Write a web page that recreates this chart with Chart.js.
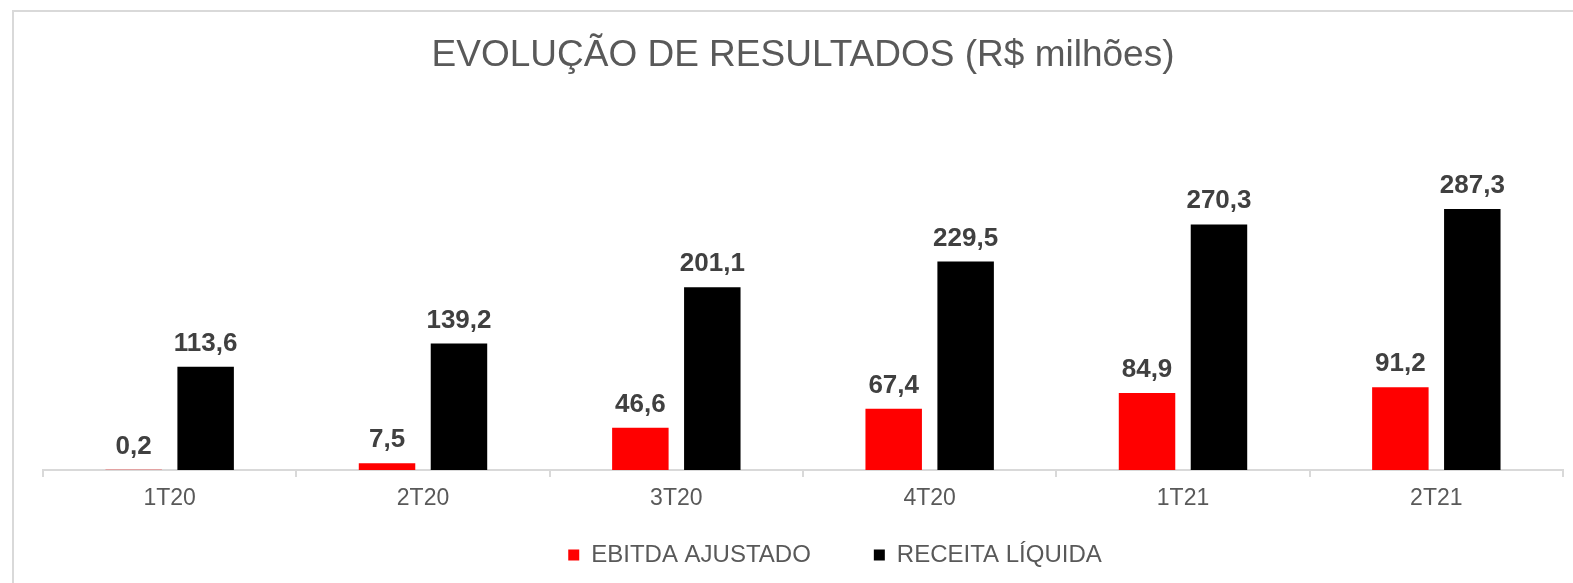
<!DOCTYPE html>
<html>
<head>
<meta charset="utf-8">
<script src="https://cdn.jsdelivr.net/npm/chart.js@4/dist/chart.umd.min.js"></script>
<style>
  html, body { margin: 0; padding: 0; background: #ffffff; overflow: hidden; }
  #wrap { position: relative; width: 1573px; height: 583px; }
  #frame { position: absolute; left: 12px; top: 10px; width: 1600px; height: 620px;
           border-left: 2px solid #d9d9d9; border-top: 2px solid #d9d9d9; pointer-events: none; }
  canvas { position: absolute; left: 0; top: 0; }
</style>
</head>
<body>
<div id="wrap">
  <canvas id="c" width="1573" height="583"></canvas>
  <div id="frame"></div>
</div>
<script>
const chartTitle = 'EVOLUÇÃO DE RESULTADOS (R$ milhões)';
const categories = ['1T20', '2T20', '3T20', '4T20', '1T21', '2T21'];
const seriesNames = ['EBITDA AJUSTADO', 'RECEITA LÍQUIDA'];
const ebitdaAjustado = [0.2, 7.5, 46.6, 67.4, 84.9, 91.2];
const receitaLiquida = [113.6, 139.2, 201.1, 229.5, 270.3, 287.3];

const FONT = '"Liberation Sans", Arial, sans-serif';
const fmt = v => v.toFixed(1).replace('.', ',');

const valueLabels = {
  id: 'valueLabels',
  afterDatasetsDraw(chart) {
    const ctx = chart.ctx;
    ctx.save();
    ctx.font = 'bold 26px ' + FONT;
    ctx.fillStyle = '#404040';
    ctx.textAlign = 'center';
    ctx.textBaseline = 'alphabetic';
    chart.data.datasets.forEach((ds, i) => {
      chart.getDatasetMeta(i).data.forEach((bar, j) => {
        ctx.fillText(fmt(ds.data[j]), bar.x, bar.y - 16);
      });
    });
    ctx.restore();
  }
};

new Chart(document.getElementById('c'), {
  type: 'bar',
  data: {
    labels: categories,
    datasets: [
      { label: seriesNames[0], data: ebitdaAjustado, backgroundColor: '#ff0000', borderWidth: 0 },
      { label: seriesNames[1], data: receitaLiquida, backgroundColor: '#000000', borderWidth: 0 }
    ]
  },
  options: {
    responsive: false,
    devicePixelRatio: 1,
    animation: false,
    layout: { padding: { left: 10, right: -87, top: 0, bottom: 6 } },
    datasets: { bar: { categoryPercentage: 0.568, barPercentage: 0.785 } },
    plugins: {
      tooltip: { enabled: false },
      title: {
        display: true,
        text: chartTitle,
        fullSize: false,
        color: '#595959',
        font: { family: FONT, size: 37, weight: 'normal' },
        padding: { top: 33.4, bottom: 74.3 }
      },
      legend: {
        display: true,
        position: 'bottom',
        fullSize: true,
        align: 'center',
        labels: {
          boxWidth: 11,
          boxHeight: 11,
          padding: 63,
          color: '#595959',
          font: { family: FONT, size: 24 }
        }
      }
    },
    scales: {
      x: {
        grid: { display: true, drawOnChartArea: false, drawTicks: true, tickLength: 7, color: '#d9d9d9', lineWidth: 2, offset: true },
        border: { display: true, color: '#d9d9d9', width: 2 },
        ticks: { color: '#595959', font: { family: FONT, size: 23 }, mirror: true, padding: -42.8, maxRotation: 0, autoSkip: false },
        afterFit: s => { s.height = 10; }
      },
      y: {
        position: 'left',
        min: 0, max: 350,
        display: true,
        grid: { display: false },
        border: { display: false },
        ticks: { display: false },
        afterFit: s => { s.width = 33; }
      },
      yR: {
        position: 'right',
        display: true,
        grid: { display: false },
        border: { display: false },
        ticks: { display: false },
        afterFit: s => { s.width = 97; }
      }
    }
  },
  plugins: [valueLabels]
});
</script>
</body>
</html>
